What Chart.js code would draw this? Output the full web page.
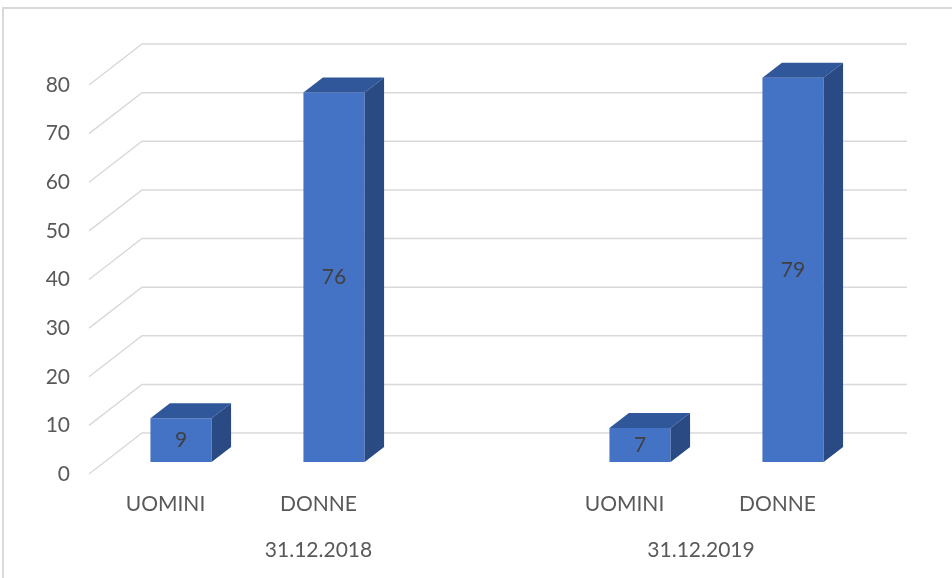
<!DOCTYPE html>
<html>
<head>
<meta charset="utf-8">
<script src="https://cdn.jsdelivr.net/npm/chart.js@4"></script>
<style>
  html, body { margin: 0; padding: 0; background: #fff; }
  canvas { display: block; background: #fff; }
</style>
</head>
<body>
<canvas id="grafico" width="952" height="578"></canvas>
<script>
// dati: categorie con una colonna vuota tra i due anni
var categorie = ['UOMINI', 'DONNE', '', 'UOMINI', 'DONNE'];
var gruppi = ['31.12.2018', '31.12.2018', '31.12.2018', '31.12.2019', '31.12.2019'];
var valori = [9, 76, null, 7, 79];
var tickY = [0, 10, 20, 30, 40, 50, 60, 70, 80];

// profondità del pavimento e posizione delle barre al suo interno
var PROF_X = 53, PROF_Y = 41;
var BARRA_FRONTE = 0.707, BARRA_RETRO = 0.34;

var font = 'Lato, "Open Sans", sans-serif';
var grigioTesto = '#595959';
var grigioGriglia = '#d9d9d9';

// centro di ogni gruppo = media tra prima e ultima categoria del gruppo
var nomiGruppi = [];
var centriGruppi = [];
gruppi.forEach(function (g, i) {
    var k = nomiGruppi.indexOf(g);
    if (k < 0) {
        nomiGruppi.push(g);
        centriGruppi.push([i, i]);
    } else {
        centriGruppi[k][1] = i;
    }
});
centriGruppi = centriGruppi.map(function (c) { return (c[0] + c[1]) / 2; });

var spostX = PROF_X * (1 - BARRA_FRONTE);
var spostY = PROF_Y * (1 - BARRA_FRONTE);
var latoX = PROF_X * (BARRA_FRONTE - BARRA_RETRO);
var latoY = PROF_Y * (BARRA_FRONTE - BARRA_RETRO);

var prospettiva = {
    id: 'prospettiva',
    beforeDraw: function (chart) {
        var ctx = chart.ctx;
        ctx.save();
        ctx.strokeStyle = grigioGriglia;
        ctx.lineWidth = 2;
        ctx.strokeRect(3, 8, 1200, 1200);
        ctx.restore();
    },
    beforeDatasetsDraw: function (chart) {
        var ctx = chart.ctx;
        var area = chart.chartArea;
        var y = chart.scales.y;

        // griglia: diagonale sul pavimento + linea sulla parete di fondo
        ctx.save();
        ctx.strokeStyle = grigioGriglia;
        ctx.lineWidth = 1.5;
        y.ticks.forEach(function (t) {
            var py = y.getPixelForValue(t.value);
            ctx.beginPath();
            ctx.moveTo(area.left, py);
            ctx.lineTo(area.left + PROF_X, py - PROF_Y);
            ctx.lineTo(area.right + PROF_X, py - PROF_Y);
            ctx.stroke();
        });
        ctx.restore();

        // le barre stanno a metà del pavimento
        ctx.save();
        ctx.translate(spostX, -spostY);
    },
    afterDatasetsDraw: function (chart) {
        var ctx = chart.ctx;
        var meta = chart.getDatasetMeta(0);

        meta.data.forEach(function (bar, i) {
            if (valori[i] == null) return;
            var p = bar.getProps(['x', 'y', 'base', 'width'], true);
            var sx = p.x - p.width / 2;
            var dx = p.x + p.width / 2;

            // faccia superiore
            ctx.fillStyle = '#30579a';
            ctx.beginPath();
            ctx.moveTo(sx, p.y);
            ctx.lineTo(dx, p.y);
            ctx.lineTo(dx + latoX, p.y - latoY);
            ctx.lineTo(sx + latoX, p.y - latoY);
            ctx.closePath();
            ctx.fill();

            // faccia laterale
            ctx.fillStyle = '#294a83';
            ctx.beginPath();
            ctx.moveTo(dx, p.y);
            ctx.lineTo(dx + latoX, p.y - latoY);
            ctx.lineTo(dx + latoX, p.base - latoY);
            ctx.lineTo(dx, p.base);
            ctx.closePath();
            ctx.fill();

            // etichetta del valore
            ctx.fillStyle = '#404040';
            ctx.font = '21px ' + font;
            ctx.textAlign = 'center';
            ctx.textBaseline = 'middle';
            ctx.fillText(String(valori[i]), p.x, (p.y + p.base) / 2);
        });

        ctx.restore();
    }
};

var ctx = document.getElementById('grafico').getContext('2d');

var grafico = new Chart(ctx, {
    type: 'bar',
    data: {
        labels: categorie,
        datasets: [{
            data: valori,
            backgroundColor: '#4472c4',
            borderWidth: 0,
            barPercentage: 0.8,
            categoryPercentage: 0.5
        }]
    },
    options: {
        responsive: false,
        animation: false,
        devicePixelRatio: 1,
        layout: { padding: { top: 85, right: 98, left: 0, bottom: 0 } },
        plugins: {
            legend: { display: false },
            tooltip: { enabled: false }
        },
        scales: {
            y: {
                min: 0,
                max: 80,
                afterBuildTicks: function (scale) {
                    scale.ticks = tickY.map(function (v) { return { value: v }; });
                },
                afterFit: function (scale) { scale.width = 89; },
                grid: { display: false, drawTicks: false },
                border: { display: false },
                ticks: { padding: 19, color: grigioTesto, font: { family: font, size: 21 } }
            },
            x: {
                weight: 0,
                afterFit: function (scale) { scale.height = 56; },
                grid: { display: false, drawTicks: false },
                border: { display: false },
                ticks: { padding: 18, maxRotation: 0, autoSkip: false, color: grigioTesto, font: { family: font, size: 21 } }
            },
            // secondo livello dell'asse: le date, centrate sotto il proprio gruppo
            gruppo: {
                type: 'linear',
                position: 'bottom',
                weight: 1,
                offset: false,
                min: -0.5,
                max: categorie.length - 0.5,
                afterBuildTicks: function (scale) {
                    scale.ticks = centriGruppi.map(function (v) { return { value: v }; });
                },
                afterFit: function (scale) { scale.height = 48; },
                grid: { display: false, drawTicks: false, offset: false },
                border: { display: false },
                ticks: {
                    padding: 8,
                    maxRotation: 0,
                    autoSkip: false,
                    color: grigioTesto,
                    font: { family: font, size: 21 },
                    callback: function (v, i) { return nomiGruppi[i]; }
                }
            }
        }
    },
    plugins: [prospettiva]
});
</script>
</body>
</html>
